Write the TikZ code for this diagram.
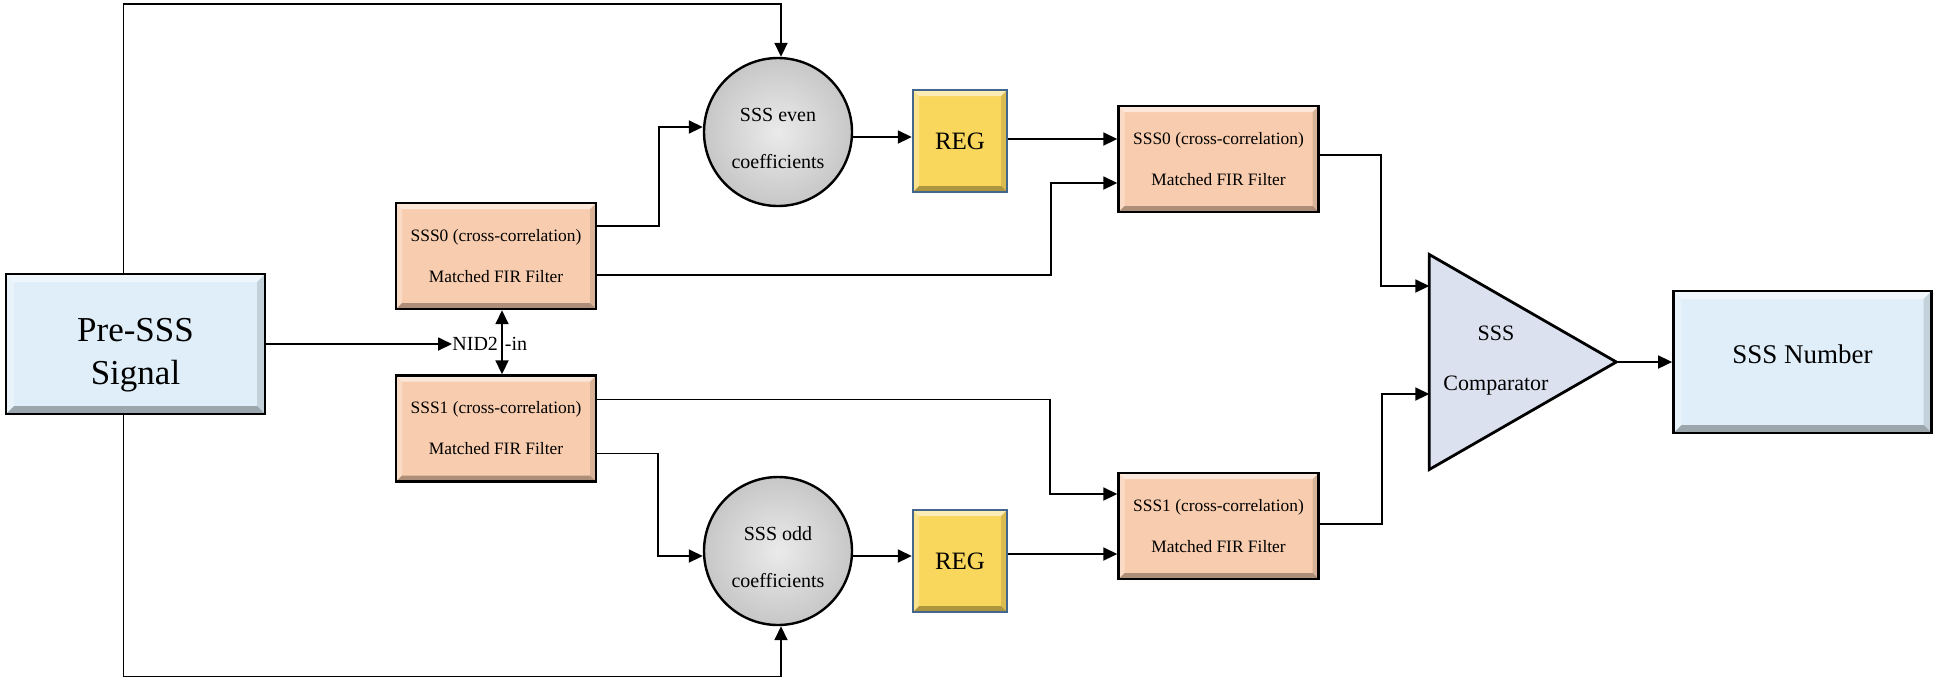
\documentclass[tikz,border=0pt]{standalone}
\usepackage{fontspec}
\setmainfont{Liberation Serif}
\usepackage{tikz}
\usepackage{xcolor}
\usetikzlibrary{positioning,shapes.geometric,arrows.meta,calc}

\definecolor{sigblue}{RGB}{223,238,249}
\definecolor{firpeach}{RGB}{248,204,174}
\definecolor{regyellow}{RGB}{249,214,92}
\definecolor{regedge}{RGB}{66,102,140}
\definecolor{coefgray}{RGB}{214,214,214}
\definecolor{compblue}{RGB}{219,225,239}

\begin{document}
\begin{tikzpicture}[x=0.5pt,y=-0.5pt,
  bevel/.style={path picture={
    \path (path picture bounding box.south west) coordinate (bl)
          (path picture bounding box.south east) coordinate (br)
          (path picture bounding box.north east) coordinate (tr)
          (path picture bounding box.north west) coordinate (tl);
    \fill[white,opacity=.55] (tl) -- (tr) -- ([shift={(-#1,-#1)}]tr) -- ([shift={(#1,-#1)}]tl) -- cycle;
    \fill[white,opacity=.3] (tl) -- ([shift={(#1,-#1)}]tl) -- ([shift={(#1,#1)}]bl) -- (bl) -- cycle;
    \fill[black,opacity=.12] (tr) -- (br) -- ([shift={(-#1,#1)}]br) -- ([shift={(-#1,-#1)}]tr) -- cycle;
    \fill[black,opacity=.3] (bl) -- ([shift={(#1,#1)}]bl) -- ([shift={(-#1,#1)}]br) -- (br) -- cycle;
  }},
  bevel/.default=4pt,
  sigbox/.style={draw=black,line width=1.4pt,fill=sigblue,bevel,inner sep=0pt,align=center},
  firbox/.style={draw=black,line width=1.2pt,fill=firpeach,bevel=3pt,minimum width=100pt,minimum height=53pt,
    inner sep=0pt,align=center,font=\fontsize{8.7}{20.5}\selectfont},
  regbox/.style={draw=regedge,line width=1.2pt,fill=regyellow,bevel=3pt,minimum width=47pt,minimum height=51pt,
    inner sep=0pt,font=\fontsize{12.5}{15}\selectfont},
  coef/.style={circle,draw=black,line width=1.2pt,inner color=coefgray!50!white,outer color=coefgray!93!black,
    minimum size=74pt,inner sep=0pt,align=center,text height=36.6pt,text depth=0pt,font=\fontsize{10}{23.5}\selectfont},
  cmpshape/.style={isosceles triangle,isosceles triangle stretches,shape border rotate=0,draw=black,line width=1.4pt,
    fill=compblue,minimum width=107.5pt,minimum height=93.5pt,inner sep=0pt,outer sep=0pt},
  >={Triangle[length=7pt,width=6.5pt]},
  arr/.style={line width=0.9pt,->}]
\useasboundingbox (0,0) rectangle (1938,682);

\node[sigbox,minimum width=129.5pt,minimum height=70pt,text height=44.3pt,font=\fontsize{17.5}{21.5}\selectfont] (pre) at (135.5,344) {Pre-SSS\\Signal};
\node[sigbox,minimum width=129pt,minimum height=71pt,text depth=8pt,font=\fontsize{13.5}{16}\selectfont] (num) at (1802.5,362) {SSS Number};

\node[firbox] (fA) at (496,256) {SSS0 (cross-correlation)\\Matched FIR Filter};
\node[firbox] (fB) at (496,428.5) {SSS1 (cross-correlation)\\Matched FIR Filter};
\node[firbox] (fC) at (1218.5,159) {SSS0 (cross-correlation)\\Matched FIR Filter};
\node[firbox] (fD) at (1218.5,526) {SSS1 (cross-correlation)\\Matched FIR Filter};

\node[coef] (even) at (778,132) {SSS even\\coefficients};
\node[coef] (odd) at (778,551) {SSS odd\\coefficients};

\node[regbox] (regA) at (960,141) {REG};
\node[regbox] (regB) at (960,561) {REG};

\node[cmpshape,label={[align=center,font=\fontsize{11}{25}\selectfont,xshift=2.25pt,yshift=0.5pt]center:SSS\\Comparator}] (comp) at (1491.5,362) {};

\node[anchor=west,inner sep=0pt,font=\fontsize{10}{12}\selectfont] (nid) at (452,344) {NID2\hspace{3.5pt}-in};

\draw[arr] ([xshift=-6pt]pre.north) -- ++(0,-269) -| ([xshift=1.5pt]even.north);
\draw[arr] ([xshift=-6pt]pre.south) -- ++(0,261) -| ([xshift=1.5pt]odd.south);
\draw[arr] (pre.east) -- (nid.west);
\draw[line width=0.9pt,<->] ([xshift=3pt]fA.south) -- ([xshift=3pt]fB.north);

\draw[arr] ([yshift=15pt]fA.east) -- ++(62,0) |- ([yshift=2.5pt]even.west);
\draw[arr] ([yshift=-9.5pt]fA.east) -- ++(454,0) |- ([yshift=-12pt]fC.west);
\draw[arr] ([yshift=14.5pt]fB.east) -- ++(453,0) |- ([yshift=16pt]fD.west);
\draw[arr] ([yshift=-12.5pt]fB.east) -- ++(61,0) |- ([yshift=-2.5pt]odd.west);

\draw[arr] ([yshift=-2.5pt]even.east) -- ([yshift=2pt]regA.west);
\draw[arr] ([yshift=1pt]regA.east) -- ([yshift=10pt]fC.west);
\draw[arr] ([yshift=-2.5pt]odd.east) -- ([yshift=2.5pt]regB.west);
\draw[arr] ([yshift=3.5pt]regB.east) -- ([yshift=-14pt]fD.west);

\draw[arr] ([yshift=2pt]fC.east) -- ++(61,0) |- ([yshift=38pt]comp.west);
\draw[arr] ([yshift=1pt]fD.east) -- ++(62,0) |- ([yshift=-16pt]comp.west);
\draw[arr] (comp.east) -- (num.west);
\end{tikzpicture}
\end{document}
